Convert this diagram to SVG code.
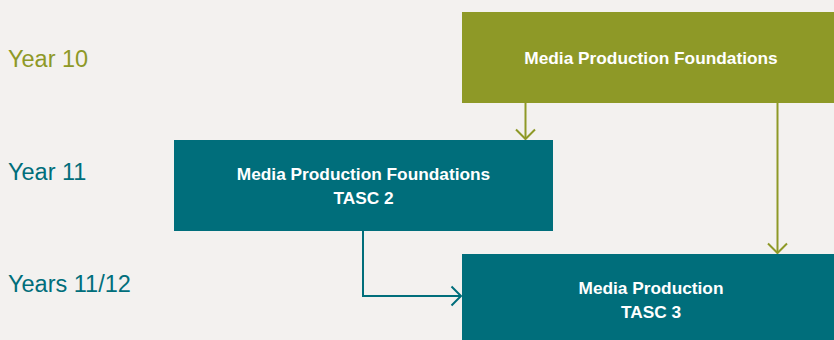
<svg xmlns="http://www.w3.org/2000/svg" width="834" height="340" viewBox="0 0 834 340">
<style>
.lbl{font-family:"Liberation Sans",Arial,sans-serif;font-size:23.5px}
.bx{font-family:"Liberation Sans",Arial,sans-serif;font-size:17.3px;font-weight:bold;fill:#fff;text-anchor:middle}
.olive{fill:#8E9927}
.teal{fill:#006E7B}
.co{fill:none;stroke-width:2}
</style>
<defs>
<marker id="ao" markerWidth="22" markerHeight="14" refX="10" refY="11" markerUnits="userSpaceOnUse" orient="0" viewBox="0 0 22 14" overflow="visible">
<path d="M0.5,1.5 L10,11 L19.5,1.5" fill="none" stroke="#8E9927" stroke-width="2"/>
</marker>
<marker id="at" markerWidth="14" markerHeight="22" refX="11" refY="10" markerUnits="userSpaceOnUse" orient="0" viewBox="0 0 14 22" overflow="visible">
<path d="M1.5,0.5 L11,10 L1.5,19.5" fill="none" stroke="#006E7B" stroke-width="2"/>
</marker>
</defs>
<rect width="834" height="340" fill="#F3F1EF"/>
<text class="lbl olive" x="8" y="67">Year 10</text>
<text class="lbl teal" x="8" y="180">Year 11</text>
<text class="lbl teal" x="8" y="292">Years 11/12</text>
<g id="connectors">
<path class="co" d="M525.5,103 V139" stroke="#8E9927" marker-end="url(#ao)"/>
<path class="co" d="M777.5,103 V253" stroke="#8E9927" marker-end="url(#ao)"/>
<path class="co" d="M363,231 V296 H461" stroke="#006E7B" marker-end="url(#at)"/>
</g>
<g id="n1">
<rect class="olive" x="462" y="12" width="372" height="91"/>
<text class="bx" x="651" y="64">Media Production Foundations</text>
</g>
<g id="n2">
<rect class="teal" x="174" y="140" width="379" height="91"/>
<text class="bx" x="363.5" y="180">Media Production Foundations</text>
<text class="bx" x="363.5" y="204">TASC 2</text>
</g>
<g id="n3">
<rect class="teal" x="462" y="254" width="372" height="86"/>
<text class="bx" x="651" y="294">Media Production</text>
<text class="bx" x="651" y="318">TASC 3</text>
</g>
</svg>
